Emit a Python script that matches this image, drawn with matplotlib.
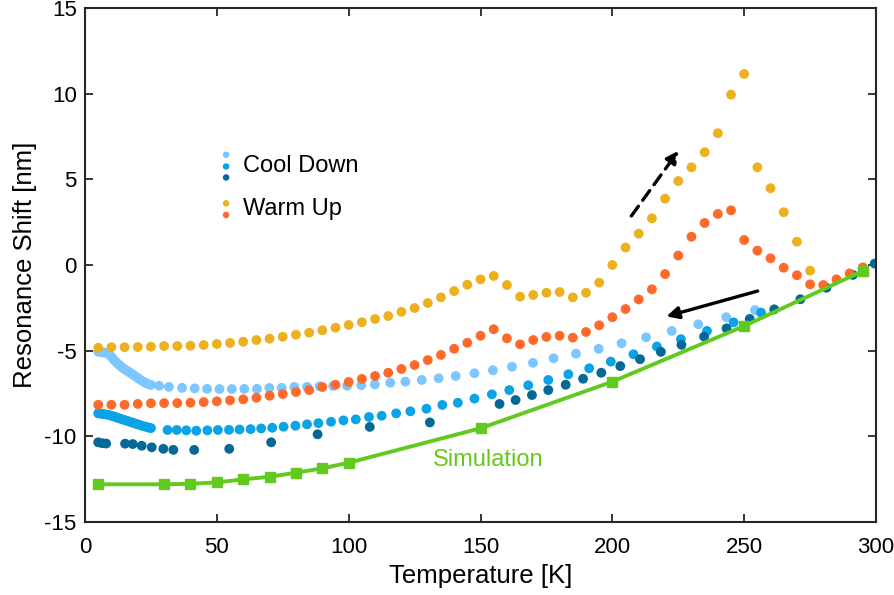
import numpy as np
import matplotlib
matplotlib.use("Agg")
import matplotlib.pyplot as plt

plt.rcParams['font.family'] = ['Liberation Sans', 'DejaVu Sans']
plt.rcParams['axes.unicode_minus'] = False

# cool down 1 (light blue)
cool1_T = [5, 6, 7, 8, 9, 10, 11, 12, 13, 14, 15, 16, 17, 18, 19, 20, 21, 22, 23, 24, 25,
           28.1, 31.8, 36.8, 41.6, 46.3, 51.0, 55.7, 60.4, 65.2, 69.9, 74.6, 79.4, 84.2, 89.0,
           94.1, 99.4, 104.8, 109.9, 115.8, 121.5, 127.7, 134.1, 140.6, 147.7, 154.7, 161.9,
           169.9, 177.7, 186.2, 194.8, 203.5, 212.8, 222.5, 232.6, 243.2, 254.1]
cool1_S = [-5.06, -5.08, -5.10, -5.13, -5.20, -5.35, -5.55, -5.70, -5.84, -5.97, -6.08, -6.18,
           -6.28, -6.38, -6.49, -6.59, -6.70, -6.80, -6.88, -6.95, -7.00,
           -7.05, -7.11, -7.17, -7.20, -7.23, -7.24, -7.24, -7.23, -7.23, -7.18, -7.17, -7.12,
           -7.11, -7.08, -7.06, -7.05, -7.02, -6.97, -6.87, -6.81, -6.71, -6.61, -6.48, -6.32,
           -6.14, -5.94, -5.71, -5.45, -5.18, -4.89, -4.57, -4.22, -3.85, -3.46, -3.05, -2.63]

# cool down 2 (mid blue)
cool2_T = [5, 6, 7, 8, 9, 10, 11, 12, 13, 14, 15, 16, 17, 18, 19, 20, 21, 22, 23, 24, 25,
           31.3, 34.8, 38.4, 42.2, 46.4, 50.4, 54.6, 58.6, 62.8, 66.8, 71.0, 75.3, 79.8, 84.2,
           88.5, 93.3, 98.0, 102.7, 107.7, 112.5, 118.0, 123.4, 129.5, 135.5, 141.4, 147.7,
           154.3, 160.9, 168.1, 175.7, 183.3, 191.2, 199.4, 208.0, 216.9, 226.0, 235.9, 246.0, 256.4]
cool2_S = [-8.66, -8.68, -8.70, -8.72, -8.75, -8.80, -8.85, -8.90, -8.95, -9.00, -9.05, -9.10,
           -9.15, -9.20, -9.25, -9.30, -9.35, -9.40, -9.44, -9.48, -9.52,
           -9.63, -9.63, -9.65, -9.67, -9.65, -9.63, -9.62, -9.60, -9.58, -9.54, -9.50, -9.44,
           -9.38, -9.30, -9.23, -9.15, -9.07, -9.01, -8.87, -8.80, -8.66, -8.54, -8.39, -8.17,
           -8.04, -7.80, -7.55, -7.30, -7.02, -6.71, -6.38, -6.03, -5.64, -5.21, -4.76, -4.33,
           -3.85, -3.35, -2.78]

# cool down 3 (dark blue)
cool3_T = [5, 6.5, 8, 15.2, 18.1, 21.5, 25.3, 29.7, 33.5, 41.4, 54.7, 70.6, 88.2, 108.0,
           130.8, 157.2, 163.3, 169.5, 175.7, 182.3, 188.9, 195.8, 203.0, 210.5, 218.4, 226.2,
           234.8, 243.3, 252.1, 261.4, 271.3, 281.2, 291.2, 299.5]
cool3_S = [-10.35, -10.40, -10.42, -10.43, -10.45, -10.55, -10.64, -10.73, -10.79, -10.79,
           -10.73, -10.35, -9.88, -9.45, -9.19, -8.11, -7.88, -7.59, -7.30, -6.99, -6.64,
           -6.29, -5.90, -5.50, -5.07, -4.66, -4.18, -3.70, -3.15, -2.59, -2.00, -1.33, -0.58, 0.08]

# warm up 1 (yellow)
warm1_T = list(range(5, 280, 5))
warm1_S = [-4.83, -4.80, -4.80, -4.79, -4.77, -4.73, -4.73, -4.71, -4.67, -4.61, -4.55, -4.48,
           -4.38, -4.30, -4.19, -4.07, -3.95, -3.81, -3.66, -3.50, -3.34, -3.15,
           -2.98, -2.73, -2.51, -2.22, -1.89, -1.52, -1.15, -0.84, -0.64, -1.17, -1.85, -1.75,
           -1.62, -1.58, -1.89, -1.62, -1.03, 0.00, 1.02, 1.83, 2.72, 3.87, 4.90, 5.70, 6.58,
           7.69, 9.94, 11.15, 5.70, 4.48, 3.08, 1.36, -0.33]

# warm up 2 (orange)
warm2_T = list(range(5, 300, 5))
warm2_S = [-8.16, -8.16, -8.16, -8.11, -8.07, -8.06, -8.06, -8.04, -8.00, -7.96, -7.90, -7.84,
           -7.75, -7.63, -7.53, -7.41, -7.30, -7.12, -6.99, -6.83, -6.65, -6.48,
           -6.29, -6.07, -5.84, -5.55, -5.25, -4.89, -4.54, -4.13, -3.75, -4.28, -4.63, -4.38,
           -4.20, -4.13, -4.24, -3.91, -3.52, -3.05, -2.57, -2.01, -1.42, -0.53, 0.55, 1.65,
           2.45, 2.98, 3.19, 1.46, 0.84, 0.39, -0.16, -0.60, -1.13, -1.17, -0.84, -0.49, -0.14]

# simulation
sim_T = [5, 30, 40, 50, 60, 70, 80, 90, 100, 150, 200, 250, 295]
sim_S = [-12.80, -12.80, -12.77, -12.69, -12.51, -12.36, -12.12, -11.87, -11.54, -9.53,
         -6.81, -3.56, -0.35]

c_light = '#7DC6FF'
c_mid = '#0AA3E6'
c_dark = '#056896'
c_yellow = '#EDB120'
c_orange = '#FF6A2B'
c_green = '#62C91E'

fig = plt.figure(figsize=(8.95, 5.95), dpi=100)
ax = fig.add_axes([0.095, 0.1227, 0.8838, 0.8639])

ms = 50
ax.scatter(cool1_T, cool1_S, s=ms, color=c_light, edgecolors='none', zorder=2)
ax.scatter(cool2_T, cool2_S, s=ms, color=c_mid, edgecolors='none', zorder=2)
ax.scatter(cool3_T, cool3_S, s=ms, color=c_dark, edgecolors='none', zorder=2)
ax.scatter(warm1_T, warm1_S, s=ms, color=c_yellow, edgecolors='none', zorder=3)
ax.scatter(warm2_T, warm2_S, s=ms, color=c_orange, edgecolors='none', zorder=3)
ax.plot(sim_T, sim_S, color=c_green, lw=2.8, marker='s', ms=6.5, zorder=4)

ax.text(153, -11.38, 'Simulation', color=c_green, fontsize=17, ha='center', va='center')

# arrows
ax.annotate('', xy=(225.1, 6.67), xytext=(207.2, 2.86),
            arrowprops=dict(arrowstyle='-|>', lw=2.4, ls=(0, (3.6, 2.2)), color='black',
                            mutation_scale=18, shrinkA=0, shrinkB=0))
ax.annotate('', xy=(220.5, -3.0), xytext=(255.1, -1.52),
            arrowprops=dict(arrowstyle='-|>', lw=2.4, color='black',
                            mutation_scale=18, shrinkA=0, shrinkB=0))

# hand-made legend
lx = 53.5
for yv, c in zip([6.43, 5.75, 5.11], [c_light, c_mid, c_dark]):
    ax.scatter([lx], [yv], s=22, color=c, edgecolors='none', clip_on=False)
for yv, c in zip([3.6, 2.92], [c_yellow, c_orange]):
    ax.scatter([lx], [yv], s=22, color=c, edgecolors='none', clip_on=False)
ax.text(60, 5.80, 'Cool Down', fontsize=17, va='center', ha='left')
ax.text(60, 3.24, 'Warm Up', fontsize=17, va='center', ha='left')

ax.set_xlim(0, 300)
ax.set_ylim(-15, 15)
ax.set_xticks(np.arange(0, 301, 50))
ax.set_yticks(np.arange(-15, 16, 5))
ax.tick_params(direction='in', length=6, width=1.3, top=True, right=True,
               labelsize=16, colors='#262626', labelcolor='black')
ax.tick_params(axis='x', pad=11)
ax.tick_params(axis='y', pad=6)
for sp in ax.spines.values():
    sp.set_linewidth(1.5)
    sp.set_color('#262626')
ax.set_xlabel('Temperature [K]', fontsize=18.5, labelpad=4)
ax.set_ylabel('Resonance Shift [nm]', fontsize=18.5, labelpad=5)

fig.savefig('out.png', dpi=100)
